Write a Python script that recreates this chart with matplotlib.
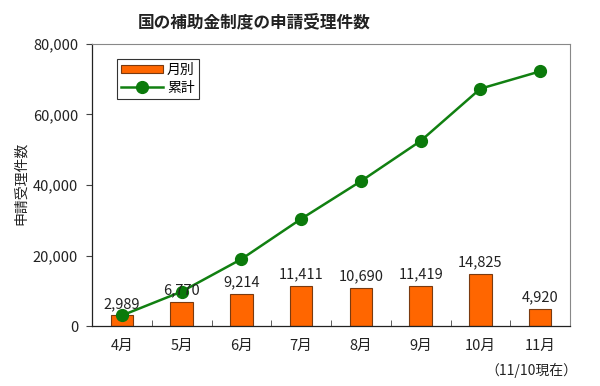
import matplotlib
matplotlib.use("Agg")
import matplotlib.pyplot as plt
import numpy as np

plt.rcParams['font.family'] = ['Noto Sans CJK JP', 'DejaVu Sans']

months = ["4月", "5月", "6月", "7月", "8月", "9月", "10月", "11月"]
monthly = [2989, 6770, 9214, 11411, 10690, 11419, 14825, 4920]
cumulative = list(np.cumsum(monthly))
yticks = [0, 20000, 40000, 60000, 80000]

fig = plt.figure(figsize=(6.0, 3.86), dpi=100)
ax = fig.add_axes([92/600, 1-326/386, 478/600, 282/386])

x = np.arange(len(months))
bars = ax.bar(x, monthly, width=0.38, color="#FF6600", edgecolor="#7a3a10",
              linewidth=0.8, label="月別", zorder=2)
line, = ax.plot(x, cumulative, color="#118011", linewidth=1.8, marker="o",
                markersize=8.5, markerfacecolor="#0b7a0b", markeredgecolor="#0b7a0b",
                label="累計", zorder=3)

for xi, v in zip(x, monthly):
    ax.text(xi, v + 1300, f"{v:,}", ha="center", va="bottom", fontsize=10.5,
            color="#222222", zorder=4)

ax.set_xlim(-0.5, len(months) - 0.5)
ax.set_ylim(0, 80000)
ax.set_yticks(yticks)
ax.set_yticklabels([f"{t:,}" for t in yticks], fontsize=10.5, color="#222222")
ax.set_xticks(x)
ax.set_xticklabels(months, fontsize=10.5, color="#222222")
ax.set_xticks(np.arange(-0.5, len(months), 1), minor=True)
ax.tick_params(axis="x", which="major", length=0, pad=9)
ax.tick_params(axis="x", which="minor", length=4, direction="in", color="#444444")
ax.tick_params(axis="y", length=4, direction="out", color="#444444", pad=6)

for s in ["top", "right"]:
    ax.spines[s].set_color("#888888")
    ax.spines[s].set_linewidth(0.8)
for s in ["left", "bottom"]:
    ax.spines[s].set_color("#222222")
    ax.spines[s].set_linewidth(0.9)

ax.set_ylabel("申請受理件数", fontsize=10, color="#222222")
ax.yaxis.set_label_coords((28 - 92) / 478, 0.507)

leg = ax.legend([bars, line], ["月別", "累計"], loc="upper left",
                bbox_to_anchor=(25/478, 1 - 15/282), fontsize=10,
                frameon=True, fancybox=False, edgecolor="#000000",
                handlelength=3.0, handleheight=0.5, borderpad=0.3,
                labelspacing=0.25, handletextpad=0.3, borderaxespad=0)
leg.get_frame().set_linewidth(0.8)

fig.text(254/600, 1 - 22/386, "国の補助金制度の申請受理件数", ha="center",
         va="center", fontsize=12, fontweight="bold", color="#222222")
fig.text(531/600, 1 - 370/386, "（11/10現在）", ha="center", va="center",
         fontsize=10, color="#222222")

fig.savefig("out.png", dpi=100, facecolor="white")
